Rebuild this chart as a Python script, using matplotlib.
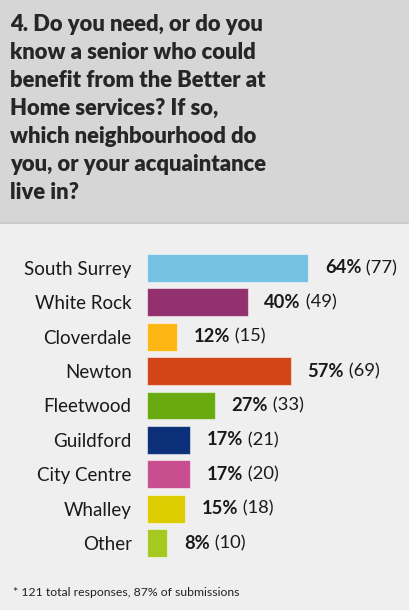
import matplotlib.pyplot as plt
from matplotlib.patches import Rectangle

# donnees
categories = ['South Surrey', 'White Rock', 'Cloverdale', 'Newton', 'Fleetwood',
              'Guildford', 'City Centre', 'Whalley', 'Other']
percents = [64, 40, 12, 57, 27, 17, 17, 15, 8]
counts = [77, 49, 15, 69, 33, 21, 20, 18, 10]
colors = ['#76c1e1', '#93306e', '#fdb714', '#d14516', '#68aa0f',
          '#0c2f7a', '#c84e90', '#dccc00', '#a5c920']

title = ("4. Do you need, or do you\nknow a senior who could\nbenefit from the Better at\n"
         "Home services? If so,\nwhich neighbourhood do\nyou, or your acquaintance\nlive in?")
footnote = "* 121 total responses, 87% of submissions"

W, H = 409, 610
plt.rcParams['font.family'] = ['Lato', 'DejaVu Sans']

fig = plt.figure(figsize=(W / 100, H / 100), dpi=100)
fig.patch.set_facecolor('#efefef')

# bandeau du titre
fig.patches.append(Rectangle((0, 1 - 222 / H), 1, 222 / H, transform=fig.transFigure,
                             facecolor='#d6d6d6', edgecolor='none', zorder=0))
fig.patches.append(Rectangle((0, 1 - 224 / H), 1, 2 / H, transform=fig.transFigure,
                             facecolor='#cbcbcb', edgecolor='none', zorder=0))
fig.text(10 / W, 1 - 14 / H, title, ha='left', va='top', fontsize=15.8,
         fontweight='heavy', color='#262626', linespacing=1.41)

# axes des barres
pitch = 34.4
top = 268 - pitch / 2
bottom = 543 + pitch / 2
left = 147
ax = fig.add_axes([left / W, 1 - bottom / H, (W - left) / W, (bottom - top) / H])
ax.set_facecolor('none')
y = list(range(len(categories)))
ax.barh(y, percents, height=28 / pitch, color=colors, edgecolor='#ffffff80', linewidth=0.8)
ax.set_xlim(0, (W - left) / 2.52)
ax.set_ylim(len(categories) - 0.5, -0.5)
ax.set_yticks(y)
ax.set_yticklabels(categories, fontsize=13.5, color='#1a1a1a')
ax.tick_params(axis='y', length=0, pad=11)
ax.set_xticks([])
for s in ax.spines.values():
    s.set_visible(False)

for i in range(len(categories)):
    t = ax.annotate(f'{percents[i]}%', xy=(percents[i], i), xytext=(12, 0),
                    textcoords='offset points', va='center', ha='left',
                    fontsize=13.2, fontweight='bold', color='#1a1a1a')
    ax.annotate(f' ({counts[i]})', xy=(1, 0.5), xycoords=t, va='center', ha='left',
                fontsize=13.2, color='#1a1a1a')

fig.text(13 / W, 1 - 592 / H, footnote, ha='left', va='center', fontsize=8.8, color='#222222')

fig.savefig('out.png', dpi=100, facecolor=fig.get_facecolor())
